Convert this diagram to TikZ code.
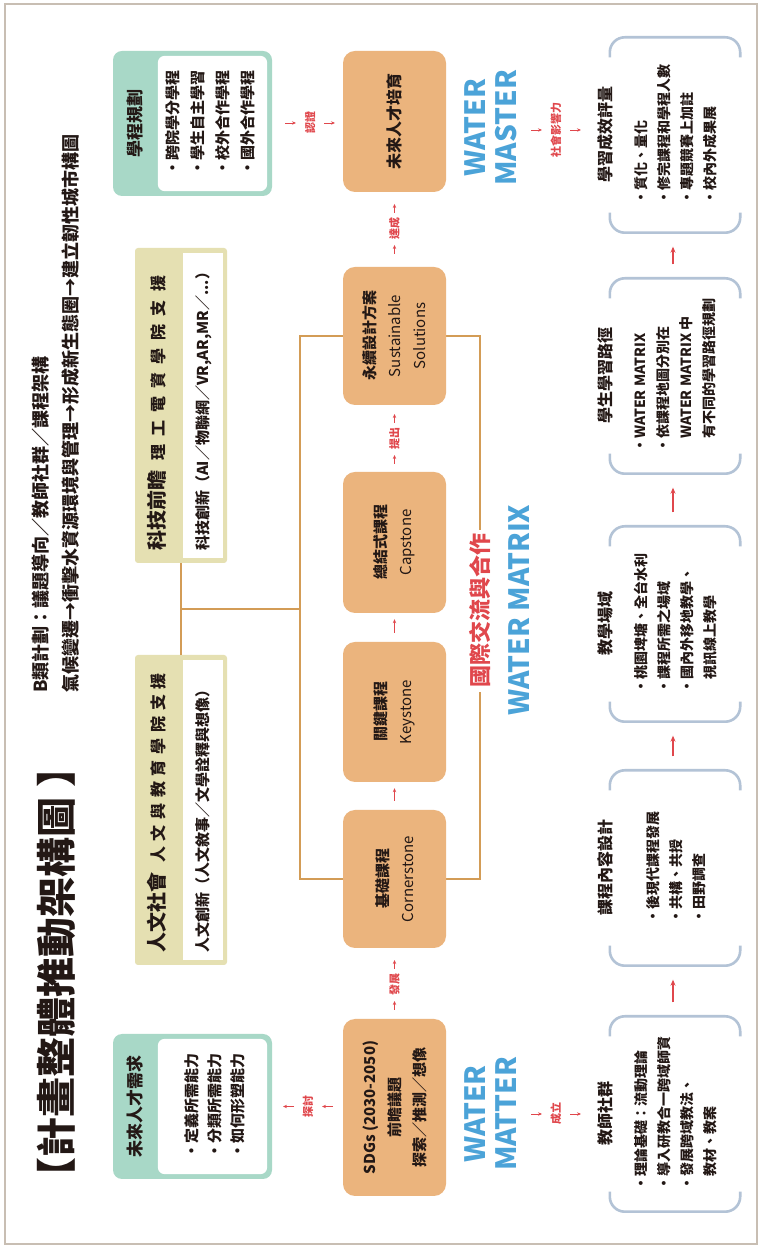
\documentclass[tikz,border=0pt]{standalone}
\usepackage{fontspec}
\setmainfont{Noto Sans CJK TC}
\usetikzlibrary{arrows.meta,calc}

\definecolor{ramec}{HTML}{C8BEB3}
\definecolor{oranz}{HTML}{EBB47D}
\definecolor{tyrkys}{HTML}{A8D8C7}
\definecolor{khaki}{HTML}{E5E0B2}
\definecolor{hneda}{HTML}{D39C56}
\definecolor{cervena}{HTML}{E0474C}
\definecolor{modra}{HTML}{4BA3D8}
\definecolor{zavorka}{HTML}{B3C3D6}
\definecolor{pismo}{HTML}{231815}

\newcommand{\fs}[2]{\fontsize{#1}{#2}\selectfont}

\tikzset{
  krok/.style={fill=oranz, rounded corners=12pt, minimum height=103pt,
    align=center, text=pismo, font=\bfseries\fs{15}{25}},
  zelena/.style={fill=tyrkys, rounded corners=9pt, minimum width=145pt,
    minimum height=159pt},
  podpora/.style={fill=khaki, rounded corners=3pt, minimum width=#1,
    minimum height=92pt},
  bile/.style={fill=white, rounded corners=7pt},
  polozky/.style={align=left, text=pismo, inner sep=0pt,
    font=\bfseries\fs{14}{23}},
  hlavicka/.style={text=pismo, inner sep=1pt, font=\bfseries\fs{16}{16}},
  skupina/.style={minimum width=195pt, minimum height=130pt},
  zav/.style={draw=zavorka, line width=2.6pt, rounded corners=15pt},
  strom/.style={draw=hneda, line width=2.4pt},
  stitek/.style={text=cervena, inner sep=1pt, font=\bfseries\fs{11}{11}},
  sipka/.style={draw=cervena, line width=0.8pt,
    -{Stealth[length=4pt,width=3.4pt]}},
  tlsipka/.style={draw=cervena, line width=1.6pt,
    -{Stealth[length=6pt,width=5pt]}},
  voda/.style={text=modra, align=center, inner sep=0pt,
    font=\bfseries\fs{28}{31}}
}

\begin{document}
\begin{tikzpicture}[x=1pt,y=1pt,>=stealth]

  \fill[white] (0,0) rectangle (763,1256);
  \useasboundingbox (0,0) rectangle (763,1256);

  \begin{scope}[rotate=90, transform shape]   % cely obrazek je otoceny

    \def\Ry{-394.5};   % stred druhe rady
    \def\Gy{-675};     % stred dolni rady
    \def\Cx{377};      % Cornerstone
    \def\Sx{920};      % Sustainable Solutions

    \draw[ramec, line width=2pt] (12,-5) rectangle (1252,-757);

    % nadpis
    \node[anchor=west, inner sep=0pt, text=pismo, font=\bfseries\fs{40}{40}]
      (nadpis) at (58,-56) {【計畫整體推動架構圖\hspace{10pt}】};
    \node[anchor=west, inner sep=0pt, text=pismo, font=\bfseries\fs{18}{18}]
      (podnadpisA) at (563,-41) {B類計劃：議題導向／教師社群／課程架構};
    \node[anchor=west, inner sep=0pt, text=pismo, font=\bfseries\fs{18}{18}]
      (podnadpisB) at (563,-71)
      {氣候變遷→衝擊水資源環境與管理→形成新生態圈→建立韌性城市構圖};

    % ramec kolem kurzu
    \draw[strom] (\Cx,-300) rectangle (\Sx,-480);

    % horni rada
    \node[zelena] (potreba) at (149.5,-192.5) {};
    \fill[bile] ($(potreba.south west)+(5,5)$)
      rectangle ($(potreba.north east)+(-5,-45)$);
    \node[hlavicka, font=\bfseries\fs{17}{17}] (potrebaH)
      at ($(potreba.north)+(0,-22)$) {未來人才需求};
    \node[polozky, font=\bfseries\fs{15}{23}] (potrebaP)
      at ($(potreba.center)+(0,-22)$)
      {・定義所需能力\\・分類所需能力\\・如何形塑能力};

    \node[zelena] (program) at (1132.5,-192.5) {};
    \fill[bile] ($(program.south west)+(5,5)$)
      rectangle ($(program.north east)+(-5,-45)$);
    \node[hlavicka, font=\bfseries\fs{17}{17}] (programH)
      at ($(program.north)+(0,-22)$) {學程規劃};
    \node[polozky, font=\bfseries\fs{15}{25}] (programP)
      at ($(program.center)+(0,-18)$)
      {・跨院學分學程\\・學生自主學習\\・校外合作學程\\・國外合作學程};

    \node[podpora=310pt] (human) at (446,-181) {};
    \fill[white] ($(human.south west)+(5,4)$)
      rectangle ($(human.south east)+(-5,44)$);
    \node[anchor=west, inner sep=0pt, text=pismo] (humanH)
      at ($(human.north west)+(12,-22)$)
      {{\bfseries\fs{20}{20}人文社會}\hspace{10pt}{\bfseries\fs{16}{16}%
       \makebox[190pt][s]{人\hfill 文\hfill 與\hfill 教\hfill 育\hfill
       學\hfill 院\hfill 支\hfill 援}}};
    \node[anchor=west, inner sep=0pt, text=pismo, font=\bfseries\fs{15}{15}]
      (humanP) at ($(human.south west)+(12,24)$)
      {人文創新（人文敘事／文學詮釋與想像）};

    \node[podpora=315pt] (tech) at (850.5,-181) {};
    \fill[white] ($(tech.south west)+(5,4)$)
      rectangle ($(tech.south east)+(-5,44)$);
    \node[anchor=west, inner sep=0pt, text=pismo] (techH)
      at ($(tech.north west)+(12,-22)$)
      {{\bfseries\fs{20}{20}科技前瞻}\hspace{10pt}{\bfseries\fs{16}{16}%
       \makebox[185pt][s]{理\hfill 工\hfill 電\hfill 資\hfill 學\hfill
       院\hfill 支\hfill 援}}};
    \node[anchor=west, inner sep=0pt, text=pismo, font=\bfseries\fs{15}{15}]
      (techP) at ($(tech.south west)+(12,24)$)
      {科技創新（AI／物聯網／VR,AR,MR／...）};

    \draw[strom] (human.east) -- (tech.west);
    \coordinate (uzel) at ($(human.east)!0.5!(tech.west)$);
    \draw[strom] (uzel) -- ++(0,-119);

    % druha rada
    \node[krok, minimum width=177pt] (sdg) at (148.5,\Ry)
      {SDGs (2030-2050)\\前瞻議題\\探索／推測／想像};
    \node[krok, minimum width=138pt] (corner) at (\Cx,\Ry)
      {基礎課程\\{\mdseries Cornerstone}};
    \node[krok, minimum width=140pt] (key) at (544,\Ry)
      {關鍵課程\\{\mdseries Keystone}};
    \node[krok, minimum width=141pt] (cap) at (713.5,\Ry)
      {總結式課程\\{\mdseries Capstone}};
    \node[krok, minimum width=138pt] (sust) at (\Sx,\Ry)
      {永續設計方案\\{\mdseries Sustainable}\\{\mdseries Solutions}};
    \node[krok, minimum width=141pt, font=\bfseries\fs{16}{16}] (fut)
      at (1134.5,\Ry) {未來人才培育};

    \node[voda] (wmatter) at (142,-491) {WATER\\MATTER};
    \node[voda] (wmatrix) at (646,-519) {WATER MATRIX};
    \node[voda] (wmaster) at (1128,-491) {WATER\\MASTER};
    \node[fill=white, text=cervena, inner sep=4pt, font=\bfseries\fs{22}{22}]
      (intl) at (645,-480) {國際交流與合作};

    % popisky spojek
    \node[stitek] (tantao) at (149.5,-308) {探討};
    \node[stitek] (renzheng) at (1133,-310) {認證};
    \node[stitek] (chengli) at (142,-556) {成立};
    \node[stitek] (yingxiang) at (1126,-556) {社會影響力};
    \node[stitek] (fazhan) at (271,\Ry) {發展};
    \node[stitek] (tichu) at (817,\Ry) {提出};
    \node[stitek] (dacheng) at (1027,\Ry) {達成};

    \draw[sipka] ($(tantao.center)+(0,-25)$) -- ($(tantao.center)+(0,-14)$);
    \draw[sipka] ($(tantao.center)+(0,14)$) -- ($(tantao.center)+(0,25)$);
    \foreach \n in {renzheng,chengli,yingxiang}
    {
      \draw[sipka] ($(\n.center)+(0,25)$) -- ($(\n.center)+(0,14)$);
      \draw[sipka] ($(\n.center)+(0,-14)$) -- ($(\n.center)+(0,-25)$);
    }
    \foreach \n in {fazhan,tichu,dacheng}
    {
      \draw[sipka] ($(\n.center)+(-25,0)$) -- ($(\n.center)+(-16,0)$);
      \draw[sipka] ($(\n.center)+(16,0)$) -- ($(\n.center)+(25,0)$);
    }
    \draw[sipka] ($(corner.east)+(9,0)$) -- ($(key.west)+(-6,0)$);
    \draw[sipka] ($(key.east)+(9,0)$) -- ($(cap.west)+(-6,0)$);

    % dolni rada
    \node[skupina] (ucitel) at (142,\Gy) {};
    \node[skupina] (obsah) at (388,\Gy) {};
    \node[skupina] (pole) at (632,\Gy) {};
    \node[skupina] (cesta) at (880,\Gy) {};
    \node[skupina] (vysledek) at (1121,\Gy) {};

    \foreach \g in {ucitel,obsah,pole,cesta,vysledek}
    {
      \draw[zav] ($(\g.north west)+(20,0)$) -- (\g.north west)
        -- (\g.south west) -- ($(\g.south west)+(20,0)$);
      \draw[zav] ($(\g.north east)+(-20,0)$) -- (\g.north east)
        -- (\g.south east) -- ($(\g.south east)+(-20,0)$);
    }

    \node[hlavicka] (ucitelH) at ($(ucitel.north)+(0,4)$) {教師社群};
    \node[hlavicka] (obsahH) at ($(obsah.north)+(0,4)$) {課程內容設計};
    \node[hlavicka] (poleH) at ($(pole.north)+(0,4)$) {教學場域};
    \node[hlavicka] (cestaH) at ($(cesta.north)+(0,4)$) {學生學習路徑};
    \node[hlavicka] (vysledekH) at ($(vysledek.north)+(0,4)$) {學習成效評量};

    \node[polozky] (ucitelP) at ($(ucitel.center)+(0,-1)$)
      {・理論基礎：流動理論\\・導入研教合一跨域師資\\・發展跨域教法、\\\hspace*{1em}教材、教案};
    \node[polozky] (obsahP) at ($(obsah.center)+(0,-1)$)
      {・後現代課程發展\\・共構、共授\\・田野調查};
    \node[polozky] (poleP) at ($(pole.center)+(0,-1)$)
      {・桃園埤塘、全台水利\\・課程所需之場域\\・國內外移地教學、\\\hspace*{1em}視訊線上教學};
    \node[polozky] (cestaP) at ($(cesta.center)+(0,-1)$)
      {・WATER MATRIX\\・依課程地圖分別在\\\hspace*{1em}WATER MATRIX 中\\\hspace*{1em}有不同的學習路徑規劃};
    \node[polozky] (vysledekP) at ($(vysledek.center)+(0,-1)$)
      {・質化、量化\\・修完課程和學程人數\\・專題競賽上加註\\・校內外成果展};

    \foreach \a/\b in {ucitel/obsah,obsah/pole,pole/cesta,cesta/vysledek}
      \draw[tlsipka] ($(\a.east)+(14,2)$) -- ($(\b.west)+(-14,2)$);

  \end{scope}

\end{tikzpicture}
\end{document}
